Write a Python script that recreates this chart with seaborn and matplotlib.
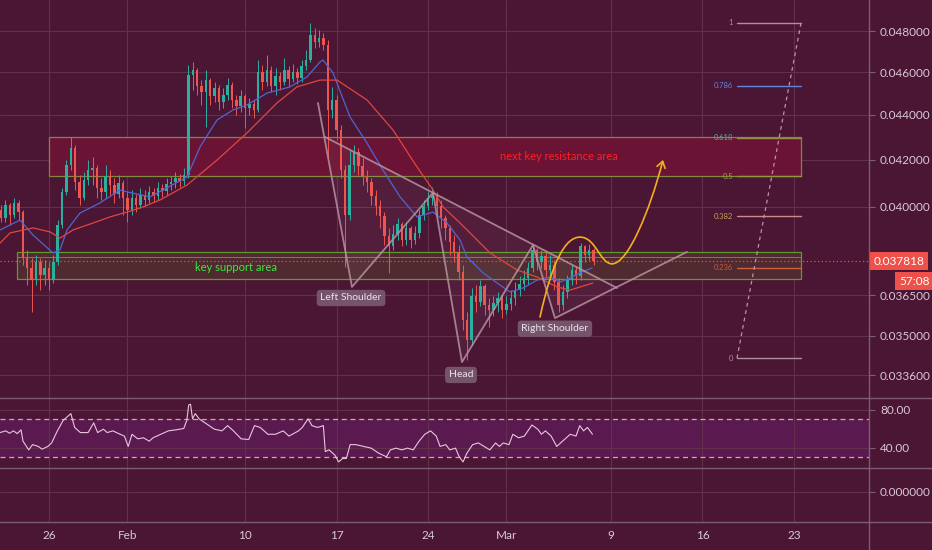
import numpy as np
import pandas as pd
import matplotlib
matplotlib.use("Agg")
import matplotlib.pyplot as plt
import matplotlib.transforms as mtransforms
from matplotlib.lines import Line2D
from matplotlib.patches import Rectangle, Polygon, FancyArrowPatch
from matplotlib.path import Path
from matplotlib.ticker import FixedLocator, NullLocator, FuncFormatter, NullFormatter
import seaborn as sns

# TradingView style colours
BG = "#4b1534"
GRID = "#62304b"
SEP = "#7d5d74"
TXT = "#d9c9d5"
UP = "#2bb09e"
DOWN = "#ec5650"
BAND = "#5a1a4f"

sns.set_theme(style="dark", rc={
    "figure.facecolor": BG, "axes.facecolor": BG, "savefig.facecolor": BG,
    "text.color": TXT, "xtick.color": TXT, "ytick.color": TXT,
})
plt.rcParams["font.family"] = ["Lato", "DejaVu Sans"]

# =====================================================================
# DATA  (prices in units of 0.00001, 8h candles starting 2020-01-22 08:00)
# =====================================================================
CANDLE_FIRST = "2020-01-22 08:00"
OPEN0 = 3987
CLOSE = [3955, 4008, 3967, 4017, 3979, 3794, 3755, 3708, 3778, 3728,
         3755, 3708, 3778, 3926, 4063, 4178, 4252, 4105, 4038, 4113,
         4156, 4165, 4080, 4063, 4130, 4092, 4054, 4101, 4038, 3987,
         4038, 4008, 4050, 4029, 4063, 4046, 4080, 4067, 4096, 4105,
         4122, 4109, 4135, 4586, 4610, 4534, 4506, 4562, 4487, 4525,
         4460, 4492, 4539, 4469, 4441, 4487, 4432, 4450, 4423, 4601,
         4553, 4610, 4534, 4582, 4553, 4610, 4567, 4601, 4572, 4629,
         4658, 4780, 4745, 4765, 4731, 4423, 4469, 4332, 4156, 3967,
         4178, 4234, 4173, 4130, 4105, 4046, 4004, 3963, 3881, 3842,
         3889, 3930, 3865, 3914, 3865, 3894, 3967, 4004, 4038, 4046,
         4004, 3955, 3914, 3857, 3818, 3739, 3558, 3485, 3647, 3625,
         3685, 3614, 3595, 3621, 3640, 3595, 3617, 3640, 3670, 3693,
         3716, 3755, 3826, 3778, 3802, 3747, 3767, 3701, 3614, 3663,
         3708, 3747, 3724, 3842, 3806, 3826, 3781.8]
HIGH = [4008, 4029, 4017, 4038, 4029, 3987, 3826, 3794, 3806, 3794,
        3786, 3778, 3806, 3946, 4080, 4199, 4301, 4265, 4135, 4148,
        4199, 4213, 4178, 4122, 4178, 4156, 4122, 4135, 4113, 4063,
        4071, 4054, 4080, 4071, 4088, 4080, 4105, 4096, 4122, 4130,
        4148, 4139, 4165, 4634, 4648, 4620, 4562, 4610, 4572, 4553,
        4539, 4525, 4572, 4553, 4492, 4515, 4497, 4478, 4469, 4658,
        4634, 4682, 4629, 4620, 4601, 4667, 4629, 4639, 4620, 4658,
        4706, 4840, 4815, 4805, 4790, 4755, 4530, 4492, 4355, 4178,
        4243, 4265, 4252, 4208, 4156, 4122, 4071, 4029, 3979, 3914,
        3926, 3955, 3938, 3938, 3922, 3922, 3987, 4029, 4063, 4084,
        4063, 4029, 3967, 3926, 3885, 3845, 3767, 3588, 3678, 3689,
        3708, 3693, 3640, 3647, 3663, 3655, 3647, 3670, 3701, 3724,
        3747, 3778, 3845, 3834, 3826, 3818, 3806, 3786, 3716, 3689,
        3728, 3767, 3763, 3853, 3845, 3849, 3834]
LOW = [3938, 3938, 3926, 3955, 3946, 3767, 3689, 3588, 3689, 3670,
       3689, 3670, 3697, 3767, 3914, 4050, 4156, 4071, 4008, 4029,
       4092, 4092, 4038, 4029, 4038, 4050, 4017, 4038, 3967, 3938,
       3967, 3979, 3996, 4004, 4017, 4021, 4029, 4042, 4050, 4071,
       4080, 4084, 4092, 4122, 4515, 4492, 4446, 4346, 4446, 4460,
       4423, 4432, 4469, 4432, 4400, 4414, 4341, 4400, 4386, 4414,
       4515, 4534, 4506, 4492, 4515, 4539, 4534, 4553, 4544, 4553,
       4610, 4648, 4716, 4721, 4706, 4213, 4386, 4287, 4122, 3759,
       3946, 4148, 4135, 4092, 4063, 4008, 3967, 3914, 3845, 3736,
       3826, 3865, 3842, 3845, 3834, 3849, 3873, 3946, 3987, 4008,
       3967, 3914, 3865, 3806, 3778, 3708, 3521, 3413, 3467, 3588,
       3610, 3576, 3532, 3573, 3588, 3565, 3580, 3595, 3614, 3647,
       3670, 3689, 3739, 3747, 3755, 3716, 3708, 3670, 3588, 3595,
       3640, 3689, 3693, 3708, 3778, 3786, 3767]

# moving averages (days since Jan 26, price units 1e-5)
BLUE_MA_DAY = [-3.75, -2.22, -1.22, 0.31, 0.84, 1.38, 2.37, 3.90, 5.43, 5.97,
               7.73, 10.56, 11.55, 12.85, 14.08, 15.15, 16.68, 18.44, 19.74, 20.73,
               20.96, 21.73, 23.03, 24.33, 25.55, 26.86, 28.16, 29.38, 30.45, 31.45,
               31.98, 33.21, 34.51, 35.27, 36.27, 37.34, 38.33, 39.10, 39.86, 40.63, 41.55]
BLUE_MA = [3906, 3946, 3885, 3814, 3826, 3906, 3975, 4017, 4071, 4063,
           4042, 4126, 4256, 4377, 4423, 4446, 4501, 4530, 4577, 4648,
           4658, 4596, 4391, 4274, 4156, 4042, 3959, 3979, 3934, 3865,
           3798, 3736, 3689, 3663, 3678, 3708, 3720, 3701, 3716, 3736, 3755]
RED_MA_DAY = [-3.75, -2.98, -1.22, 0.08, 0.84, 1.84, 3.37, 4.67, 5.97, 7.19,
              8.49, 10.56, 12.85, 15.15, 17.44, 18.97, 20.73, 22.04, 24.33, 26.32,
              28.16, 29.38, 30.15, 31.45, 32.21, 33.74, 35.81, 37.34, 38.87, 39.86, 41.62]
RED_MA = [3853, 3894, 3914, 3898, 3873, 3906, 3934, 3959, 3979, 4000,
          4029, 4092, 4199, 4319, 4455, 4530, 4562, 4562, 4469, 4332,
          4169, 4071, 4000, 3934, 3894, 3814, 3747, 3720, 3682, 3670, 3697]

RSI_DAY = [-3.75, -3.31, -3.02, -2.72, -2.43, -2.14, -1.99, -1.55, -1.26, -0.82,
           -0.53, -0.09, 0.20, 0.64, 1.08, 1.67, 1.96, 2.40, 2.99, 3.42,
           3.72, 4.16, 4.45, 4.89, 5.33, 5.77, 6.06, 6.35, 6.79, 7.23,
           7.67, 7.96, 8.55, 9.13, 9.72, 10.31, 10.54, 10.69, 10.83, 10.98,
           11.19, 11.48, 12.06, 12.65, 13.23, 13.67, 14.11, 14.70, 15.28, 15.72,
           16.16, 16.75, 17.33, 17.92, 18.36, 19.09, 19.38, 19.82, 20.12, 20.55,
           20.99, 21.14, 21.43, 21.87, 22.16, 22.46, 22.75, 23.04, 23.48, 24.07,
           24.65, 25.24, 25.82, 26.12, 26.56, 26.99, 27.43, 27.87, 28.31, 28.75,
           29.19, 29.63, 29.92, 30.36, 30.66, 31.10, 31.39, 31.68, 31.97, 32.41,
           32.85, 33.29, 33.73, 34.17, 34.46, 34.76, 35.19, 35.49, 35.93, 36.37,
           36.95, 37.39, 37.68, 37.98, 38.42, 38.85, 39.29, 39.88, 40.32, 40.61,
           40.90, 41.20, 41.58]
RSI_VAL = [56.2, 58.0, 55.5, 58.0, 55.1, 59.1, 47.1, 38.0, 43.5, 41.6,
           38.7, 41.6, 45.3, 58.0, 68.9, 76.2, 61.6, 56.2, 56.2, 66.4,
           56.2, 59.8, 56.2, 58.0, 55.1, 52.5, 41.6, 54.4, 49.6, 50.7,
           47.1, 50.7, 54.4, 58.0, 59.1, 60.5, 68.9, 85.3, 86.0, 70.7,
           76.2, 70.7, 65.3, 59.8, 58.0, 63.5, 58.0, 49.6, 48.9, 63.5,
           61.6, 54.4, 54.4, 58.0, 52.5, 58.0, 61.6, 70.7, 63.5, 61.6,
           63.5, 36.2, 38.0, 32.5, 25.3, 28.9, 28.9, 43.5, 43.5, 41.6,
           39.8, 34.4, 30.7, 38.0, 39.8, 38.0, 39.8, 38.0, 47.1, 54.4,
           58.0, 52.5, 41.6, 43.5, 38.0, 39.8, 30.7, 25.3, 34.4, 43.5,
           45.3, 41.6, 38.0, 45.3, 41.6, 45.3, 43.5, 54.4, 50.7, 52.5,
           64.2, 59.8, 54.4, 58.0, 52.5, 41.6, 47.1, 54.4, 52.5, 63.5,
           58.0, 61.6, 54.4]

CURRENT_PRICE = 0.037818
COUNTDOWN = "57:08"

PRICE_TICKS = [0.048, 0.046, 0.044, 0.042, 0.040, 0.0365, 0.035, 0.0336]
RSI_TICKS = [80, 40]
DATE_TICKS = ["2020-01-26", "2020-02-01", "2020-02-10", "2020-02-17", "2020-02-24",
              "2020-03-01", "2020-03-09", "2020-03-16", "2020-03-23"]
DATE_LABELS = ["26", "Feb", "10", "17", "24", "Mar", "9", "16", "23"]

# drawings on the chart (days since Jan 26, price)
RES_ZONE = (0.0, 57.54, 0.04130, 0.04301)
SUP_ZONE = (-2.45, 57.54, 0.03712, 0.03818)
SUP_INNER = 0.03798
HS_DAY = [20.58, 23.18, 29.38, 31.60, 37.03, 38.71, 48.81]
HS_PRICE = [0.04455, 0.03682, 0.04059, 0.03406, 0.03845, 0.03565, 0.03818]
NECK_DAY = [21.12, 43.46]
NECK_PRICE = [0.04301, 0.03678]
HS_LABELS = [("Left Shoulder", 23.11, 0.03640), ("Head", 31.52, 0.03361),
             ("Right Shoulder", 38.71, 0.03526)]
FIB_LOW, FIB_HIGH = 0.03420, 0.04840
FIB_X0, FIB_X1 = 52.64, 57.54
FIB_LEVELS = [1, 0.786, 0.618, 0.5, 0.382, 0.236, 0]
FIB_LABELS = ["1", "0.786", "0.618", "0.5", "0.382", "0.236", "0"]
FIB_LINE_COL = ["#a8949f", "#5f86d8", "#8f8f4a", "#8a9a3c", "#d08a8a", "#d0603e", "#a8949f"]
FIB_TXT_COL = ["#a8949f", "#5f86d8", "#4fb0a5", "#8aa83a", "#c8a058", "#c8583a", "#a8949f"]
ARROW_PTS = [(37.57, 0.03569), (38.49, 0.03778), (39.48, 0.03877), (40.63, 0.03877),
             (41.85, 0.03877), (42.16, 0.03771), (43.08, 0.03771),
             (44.30, 0.03771), (45.98, 0.03987), (46.98, 0.04200)]

# =====================================================================
# PREP
# =====================================================================
T0 = pd.Timestamp("2020-01-26")
times = pd.date_range(CANDLE_FIRST, periods=len(CLOSE), freq="8h")
cx = ((times - T0) / pd.Timedelta(days=1)).to_numpy()
close = np.array(CLOSE) * 1e-5
high = np.array(HIGH) * 1e-5
low = np.array(LOW) * 1e-5
opens = np.r_[OPEN0 * 1e-5, close[:-1]]
tick_days = [(pd.Timestamp(d) - T0).days for d in DATE_TICKS]

ma_df = pd.concat([
    pd.DataFrame({"day": BLUE_MA_DAY, "price": np.array(BLUE_MA) * 1e-5, "ma": "fast"}),
    pd.DataFrame({"day": RED_MA_DAY, "price": np.array(RED_MA) * 1e-5, "ma": "slow"}),
])
rsi_df = pd.DataFrame({"day": RSI_DAY, "rsi": RSI_VAL})

# =====================================================================
# FIGURE
# =====================================================================
W, H = 932, 550
fig = plt.figure(figsize=(W / 100, H / 100), dpi=100)


def panel(top, bottom, right=869):
    return [0, 1 - bottom / H, right / W, (bottom - top) / H]


ax = fig.add_axes(panel(0, 398))
ax_rsi = fig.add_axes(panel(398, 468), sharex=ax)
ax_low = fig.add_axes(panel(468, 522), sharex=ax)

for a in (ax, ax_rsi, ax_low):
    a.set_facecolor(BG)
    for s in ("left", "top", "bottom"):
        a.spines[s].set_visible(False)
    a.spines["right"].set_color(SEP)
    a.spines["right"].set_linewidth(1)
    a.yaxis.tick_right()
    a.tick_params(axis="y", which="major", right=True, left=False, length=4,
                  width=0.8, color=SEP, pad=4, labelsize=8.5, labelcolor=TXT)
    a.tick_params(axis="y", which="minor", length=0)
    a.tick_params(axis="x", length=0, labelbottom=False)
    a.grid(True, color=GRID, lw=0.8)
    a.set_axisbelow(True)

ax.set_xlim(-3.75, 62.74)
ax.xaxis.set_major_locator(FixedLocator(tick_days))

# ---- main price panel ----
ax.set_yscale("log")
ax.set_ylim(0.032817, 0.049567)
ax.yaxis.set_major_locator(FixedLocator(PRICE_TICKS))
ax.yaxis.set_minor_locator(NullLocator())
ax.yaxis.set_minor_formatter(NullFormatter())
ax.yaxis.set_major_formatter(FuncFormatter(lambda v, _: f"{v:.6f}"))

# zones
x0, x1, lo, hi = RES_ZONE
ax.add_patch(Rectangle((x0, lo), x1 - x0, hi - lo, fc="#6b1334", ec="#7f8a3e", lw=0.9, zorder=1))
x0, x1, lo, hi = SUP_ZONE
ax.add_patch(Rectangle((x0, lo), x1 - x0, hi - lo, fc="#4f2a30", ec="#5f9a2c", lw=0.9, zorder=1))
ax.plot([x0, x1], [SUP_INNER, SUP_INNER], color="#6f8a3a", lw=0.7, zorder=1)

# candles
col = np.where(close >= opens, UP, DOWN)
ax.vlines(cx, low, high, colors=col, lw=0.7, zorder=4)
ax.bar(cx, np.abs(close - opens), bottom=np.minimum(opens, close), width=0.19,
       color=col, lw=0, zorder=5)

# moving averages
sns.lineplot(data=ma_df, x="day", y="price", hue="ma", palette={"fast": "#4f66d0", "slow": "#e0463e"},
             ax=ax, lw=0.9, legend=False, zorder=6)

# head & shoulders
hs_col = "#b4939f"
for tri in ([(NECK_DAY[0], NECK_PRICE[0]), (HS_DAY[1], HS_PRICE[1]), (HS_DAY[2], HS_PRICE[2])],
            [(HS_DAY[2], HS_PRICE[2]), (HS_DAY[3], HS_PRICE[3]), (HS_DAY[4], HS_PRICE[4])],
            [(HS_DAY[4], HS_PRICE[4]), (HS_DAY[5], HS_PRICE[5]), (NECK_DAY[1], NECK_PRICE[1])]):
    ax.add_patch(Polygon(tri, closed=True, fc="#d8b8cc", alpha=0.06, ec="none", zorder=2))
ax.plot(HS_DAY, HS_PRICE, color=hs_col, lw=1.3, alpha=0.85, zorder=7)
ax.plot(NECK_DAY, NECK_PRICE, color=hs_col, lw=1.3, alpha=0.85, zorder=7)
for txt, d, p in HS_LABELS:
    ax.text(d, p, txt, fontsize=7.5, color="#ece2ea", ha="center", va="center", zorder=9,
            bbox=dict(boxstyle="round,pad=0.35", fc="#7a5a71", ec="none", alpha=0.9))

# fib retracement
for lvl, lab, lc, tc in zip(FIB_LEVELS, FIB_LABELS, FIB_LINE_COL, FIB_TXT_COL):
    p = FIB_LOW + lvl * (FIB_HIGH - FIB_LOW)
    ax.plot([FIB_X0, FIB_X1], [p, p], color=lc, lw=1, zorder=3)
    ax.text(FIB_X0 - 0.3, p, lab, color=tc, fontsize=5.5, ha="right", va="center", zorder=3)
ax.plot([FIB_X0, FIB_X1], [FIB_LOW, FIB_HIGH], color="#b895aa", lw=0.9, ls=(0, (3, 3)), zorder=3)

# zone captions
ax.text(14.31, 0.03755, "key support area", color="#3ee83e", fontsize=8, ha="center", va="center", zorder=8)
ax.text(39.0, 0.04213, "next key resistance area", color="#ff1f1f", fontsize=8, ha="center", va="center", zorder=8)

# projected path
codes = [Path.MOVETO] + [Path.CURVE4] * 9
arrow = FancyArrowPatch(path=Path(ARROW_PTS, codes), arrowstyle="->,head_length=0.45,head_width=0.3",
                        mutation_scale=10, color="#f2b01e", lw=1.2, zorder=8)
ax.add_patch(arrow)

# current price line + labels
ax.axhline(CURRENT_PRICE, color="#e8504a", lw=0.9, ls=(0, (1, 2)), zorder=3)
trans = mtransforms.blended_transform_factory(ax.transAxes, ax.transData)
ax.annotate(f"{CURRENT_PRICE:.6f}", xy=(1.0, CURRENT_PRICE), xycoords=trans, xytext=(3.5, 0),
            textcoords="offset points", ha="left", va="center", fontsize=8.5, color="white",
            annotation_clip=False, bbox=dict(boxstyle="square,pad=0.3", fc="#f0504a", ec="none"))
ax.annotate(COUNTDOWN, xy=(1.0, CURRENT_PRICE), xycoords=trans, xytext=(43.5, -14.5),
            textcoords="offset points", ha="right", va="center", fontsize=8.5, color="white",
            annotation_clip=False, bbox=dict(boxstyle="square,pad=0.3", fc="#f0504a", ec="none"))

# ---- RSI panel ----
ax_rsi.set_ylim(18.9, 92.6)
ax_rsi.axhspan(30, 70, color=BAND, lw=0, zorder=0)
for lvl in (70, 30):
    ax_rsi.axhline(lvl, color="#cfa5c2", lw=0.9, ls=(0, (4, 3)), zorder=2)
sns.lineplot(data=rsi_df, x="day", y="rsi", ax=ax_rsi, color="#e8c6de", lw=0.8, zorder=3)
ax_rsi.yaxis.set_major_locator(FixedLocator(RSI_TICKS))
ax_rsi.yaxis.set_major_formatter(FuncFormatter(lambda v, _: f"{v:.2f}"))

# ---- empty lower pane ----
ax_low.set_ylim(-1.25, 1.0)
ax_low.yaxis.set_major_locator(FixedLocator([0]))
ax_low.yaxis.set_major_formatter(FuncFormatter(lambda v, _: f"{abs(v):.6f}"))
ax_low.tick_params(axis="x", labelbottom=True, labelsize=8.5, labelcolor=TXT, pad=6)
ax_low.set_xticklabels(DATE_LABELS)

for a in (ax, ax_rsi, ax_low):
    a.set_xlabel("")
    a.set_ylabel("")

# pane separators
for y in (398, 468, 522):
    fig.add_artist(Line2D([0, 1], [1 - y / H] * 2, color=SEP, lw=1))
fig.add_artist(Line2D([869 / W] * 2, [0, 1 - 522 / H], color=SEP, lw=1))

fig.savefig("out.png", dpi=100, facecolor=BG)
